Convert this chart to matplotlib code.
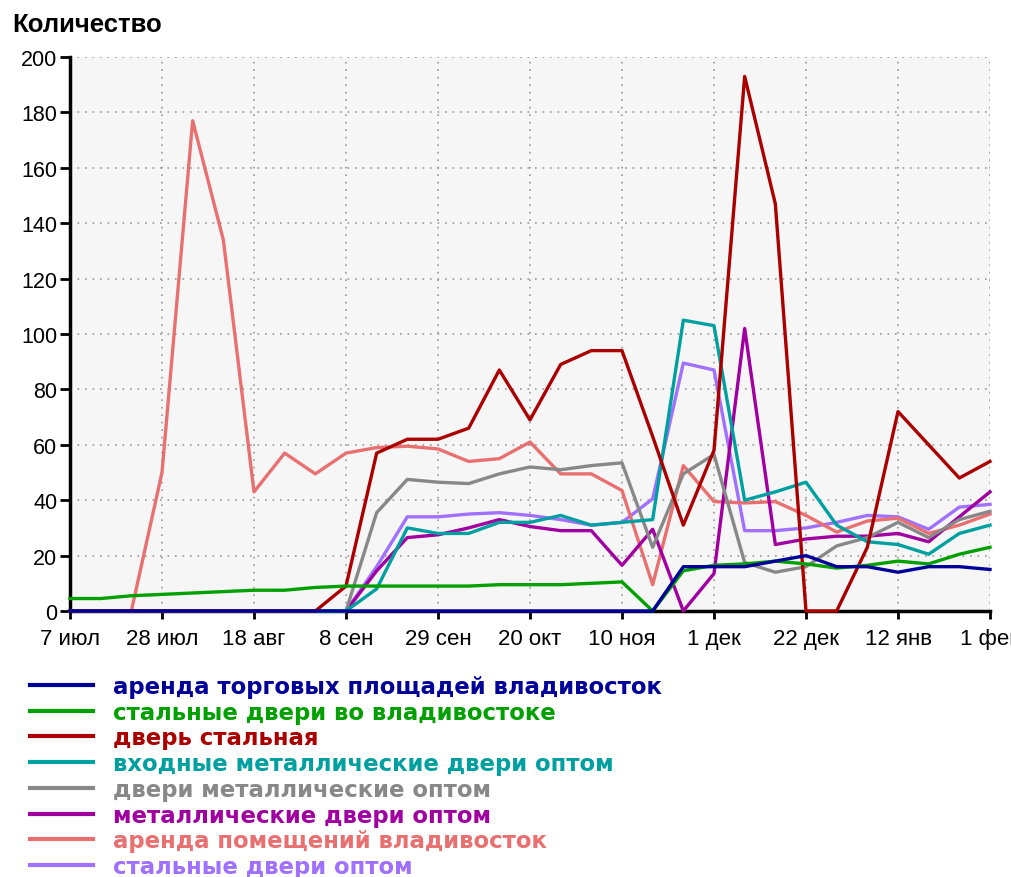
import matplotlib as mpl
mpl.use("Agg")
import matplotlib.pyplot as plt
import numpy as np

# weekly counts, 7 июл .. 1 фев
tick_labels = ['7 июл', '28 июл', '18 авг', '8 сен', '29 сен', '20 окт',
               '10 ноя', '1 дек', '22 дек', '12 янв', '1 фев']

names = ['аренда торговых площадей владивосток',
         'стальные двери во владивостоке',
         'дверь стальная',
         'входные металлические двери оптом',
         'двери металлические оптом',
         'металлические двери оптом',
         'аренда помещений владивосток',
         'стальные двери оптом']

colors = ['#000099', '#00a000', '#aa0000', '#00a0a0',
          '#888888', '#a000a0', '#e87070', '#a070ff']

arenda_torg = [0, 0, 0, 0, 0, 0, 0, 0, 0, 0, 0, 0, 0, 0, 0, 0, 0, 0, 0, 0,
               16, 16, 16, 18, 20, 16, 16, 14, 16, 16, 15]
dveri_vlad = [4.5, 4.5, 5.5, 6, 6.5, 7, 7.5, 7.5, 8.5, 9, 9, 9, 9, 9, 9.5, 9.5,
              9.5, 10, 10.5, 0, 14.5, 16.5, 17, 18, 17, 15.5, 16.5, 18, 17, 20.5, 23]
dver_stal = [0, 0, 0, 0, 0, 0, 0, 0, 0, 9, 57, 62, 62, 66, 87, 69, 89, 94, 94, 63,
             31, 58, 193, 147, 0, 0, 23, 72, 60, 48, 54]
vhodnye = [0, 0, 0, 0, 0, 0, 0, 0, 0, 0, 8, 30, 28, 28, 32, 32, 34.5, 31, 32, 33,
           105, 103, 40, 43, 46.5, 31, 25, 24, 20.5, 28, 31]
dveri_met = [0, 0, 0, 0, 0, 0, 0, 0, 0, 0, 35.5, 47.5, 46.5, 46, 49.5, 52, 51, 52.5,
             53.5, 23, 49.5, 56.5, 17.5, 14, 16, 23.5, 26.5, 32, 26.5, 33, 36]
met_dveri = [0, 0, 0, 0, 0, 0, 0, 0, 0, 0, 14.5, 26.5, 27.5, 30, 33, 30.5, 29, 29,
             16.5, 29.5, 0, 13.5, 102, 24, 26, 27, 27, 28, 25, 34, 43]
arenda_pom = [0, 0, 0, 50, 177, 134, 43, 57, 49.5, 57, 59, 59.5, 58.5, 54, 55, 61,
              49.5, 49.5, 43.5, 9.5, 52.5, 39.5, 39, 39.5, 34.5, 28.5, 32.5, 33.5,
              28, 31, 35]
stal_opt = [0, 0, 0, 0, 0, 0, 0, 0, 0, 0, 16, 34, 34, 35, 35.5, 34.5, 33, 31, 32,
            40.5, 89.5, 87, 29, 29, 30, 32, 34.5, 34, 29.5, 37.5, 38.5]

series = [arenda_torg, dveri_vlad, dver_stal, vhodnye,
          dveri_met, met_dveri, arenda_pom, stal_opt]

W, H = 1011, 878
fig = plt.figure(figsize=(W / 100, H / 100), dpi=100)
ax = fig.add_axes([70 / W, 1 - 612 / H, 920 / W, 554 / H])
ax.set_facecolor('#f6f6f6')

weeks = np.arange(len(arenda_torg))
for i, (vals, name, col) in enumerate(zip(series, names, colors)):
    # first series sits on top
    ax.plot(weeks, vals, color=col, lw=2.4, label=name,
            clip_on=False, zorder=3 + (len(series) - i) * 0.01)

ax.set_xlim(0, 30)
ax.set_ylim(0, 200)
ax.set_xticks(weeks[::3])
ax.set_xticklabels(tick_labels, fontfamily='Liberation Sans', fontsize=16)
ax.set_yticks(np.arange(0, 201, 20))
ax.tick_params(axis='y', labelsize=15.5, length=7, width=2, pad=2)
ax.tick_params(axis='x', length=6, width=2, pad=6)
for lab in ax.get_yticklabels():
    lab.set_fontfamily('Liberation Sans')

ax.grid(True, color='#999999', lw=1.2, linestyle=(0, (1, 3.5)))
for s in ['top', 'right']:
    ax.spines[s].set_visible(False)
ax.spines['left'].set_linewidth(2.5)
ax.spines['bottom'].set_linewidth(2.5)

fig.text(12 / W, 1 - 32 / H, 'Количество', fontfamily='Liberation Sans',
         fontweight='bold', fontsize=18.5, va='baseline', ha='left')

leg = ax.legend(loc='upper left', bbox_to_anchor=(30 / W, 1 - 676 / H),
                bbox_transform=fig.transFigure, frameon=False,
                borderpad=0, borderaxespad=0, handlelength=2.75,
                handletextpad=0.88, labelspacing=0.12, labelcolor='linecolor',
                prop={'family': 'DejaVu Sans', 'weight': 'bold', 'size': 16.4})
for ln in leg.get_lines():
    ln.set_linewidth(3)

plt.savefig('out.png', dpi=100)
